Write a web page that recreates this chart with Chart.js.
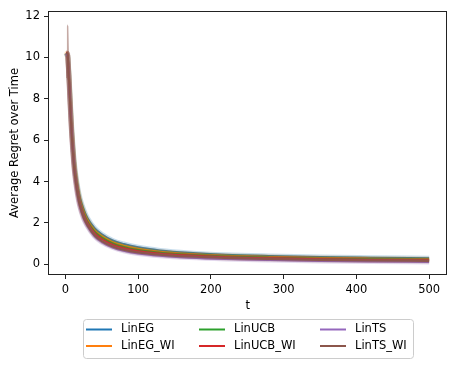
<!DOCTYPE html>
<html>
<head>
<meta charset="utf-8">
<script src="https://cdn.jsdelivr.net/npm/chart.js@4.4.1/dist/chart.umd.min.js"></script>
<style>
    html, body { margin: 0; padding: 0; background: #fff; }
    #wrap { width: 456px; height: 367px; position: relative; }
</style>
</head>
<body>
<div id="wrap"><canvas id="chart"></canvas></div>
<script>
// time steps the values were read at
const tVals = [1, 2, 3, 4, 5, 6, 7, 8, 9, 10, 12, 14, 17, 20, 25, 30, 40, 50, 65, 80, 100, 130, 170, 220, 280, 350, 420, 500];

const linEG    = [10.2, 10.2, 10.1, 9.7, 9.1, 8.4, 7.7, 7.0, 6.4, 5.9, 5.0, 4.4, 3.7, 3.2, 2.65, 2.25, 1.75, 1.45, 1.15, 0.98, 0.82, 0.67, 0.55, 0.46, 0.40, 0.35, 0.32, 0.29];
const linEG_WI = [10.1, 10.2, 10.1, 9.65, 9.0, 8.3, 7.6, 6.9, 6.3, 5.8, 4.9, 4.3, 3.6, 3.1, 2.55, 2.15, 1.65, 1.36, 1.07, 0.90, 0.75, 0.61, 0.50, 0.41, 0.35, 0.30, 0.27, 0.245];
const linUCB   = [10.2, 10.1, 10.1, 9.6, 8.95, 8.2, 7.5, 6.8, 6.2, 5.7, 4.8, 4.2, 3.5, 3.0, 2.45, 2.07, 1.57, 1.29, 1.01, 0.84, 0.69, 0.56, 0.46, 0.38, 0.32, 0.27, 0.24, 0.22];
const linUCB_WI = [10.2, 10.2, 10.1, 9.55, 8.9, 8.1, 7.4, 6.7, 6.1, 5.6, 4.7, 4.1, 3.4, 2.9, 2.35, 1.98, 1.49, 1.21, 0.94, 0.77, 0.63, 0.51, 0.42, 0.34, 0.29, 0.24, 0.21, 0.19];
const linTS    = [10.2, 10.1, 10.1, 9.5, 8.8, 8.0, 7.3, 6.6, 6.0, 5.5, 4.6, 3.95, 3.25, 2.75, 2.2, 1.85, 1.35, 1.07, 0.81, 0.65, 0.52, 0.41, 0.32, 0.25, 0.20, 0.16, 0.13, 0.11];
const linTS_WI = [10.2, 10.2, 10.2, 9.5, 8.8, 8.0, 7.3, 6.6, 6.0, 5.5, 4.6, 4.0, 3.3, 2.8, 2.25, 1.9, 1.4, 1.12, 0.86, 0.70, 0.57, 0.46, 0.37, 0.30, 0.25, 0.21, 0.18, 0.16];

// spread of LinTS_WI over the first few steps
const spikeT     = [1, 2, 3, 4, 5, 6];
const spikeUpper = [10.2, 11.5, 11.6, 11.5, 10.0, 8.4];
const spikeLower = [10.2, 9.0, 8.9, 8.9, 8.6, 7.8];

const xTicks = [0, 100, 200, 300, 400, 500];
const yTicks = [0, 2, 4, 6, 8, 10, 12];

const series = [
    { label: "LinEG", color: "#1f77b4", values: linEG },
    { label: "LinEG_WI", color: "#ff7f0e", values: linEG_WI },
    { label: "LinUCB", color: "#2ca02c", values: linUCB },
    { label: "LinUCB_WI", color: "#d62728", values: linUCB_WI },
    { label: "LinTS", color: "#9467bd", values: linTS },
    { label: "LinTS_WI", color: "#8c564b", values: linTS_WI },
];

const FONT = "'DejaVu Sans', sans-serif";

function rgba(hex, a) {
    const n = parseInt(hex.slice(1), 16);
    return `rgba(${n >> 16}, ${(n >> 8) & 255}, ${n & 255}, ${a})`;
}

const toPts = (xs, ys) => xs.map((t, i) => ({ x: t, y: ys[i] }));

const datasets = [];
series.forEach((s, i) => {
    const base = (series.length - 1 - i) * 2 + 2;
    datasets.push({
        label: s.label,
        data: toPts(tVals, s.values),
        borderColor: s.color,
        borderWidth: 2,
        pointRadius: 0,
        cubicInterpolationMode: "monotone",
        order: base,
    });
    // shaded band
    datasets.push({
        label: s.label + " band",
        data: toPts(tVals, s.values),
        borderColor: rgba(s.color, 0.25),
        borderWidth: 5,
        pointRadius: 0,
        cubicInterpolationMode: "monotone",
        order: base + 1,
    });
});
// LinTS_WI line goes on top
datasets[10].order = 0;
datasets[11].order = 1;

datasets.push({
    label: "spike upper",
    data: toPts(spikeT, spikeUpper),
    borderWidth: 0,
    pointRadius: 0,
    backgroundColor: rgba("#8c564b", 0.5),
    fill: "+1",
    order: 1,
});
datasets.push({
    label: "spike lower",
    data: toPts(spikeT, spikeLower),
    borderWidth: 0,
    pointRadius: 0,
    fill: false,
    order: 1,
});

const frameAndLegend = {
    id: "frameAndLegend",
    afterDraw(chart) {
        const c = chart.ctx;
        const a = chart.chartArea;
        c.save();
        c.strokeStyle = "#222";
        c.lineWidth = 1;
        c.strokeRect(Math.round(a.left) + 0.5, Math.round(a.top) + 0.5,
            Math.round(a.right - a.left) - 1, Math.round(a.bottom - a.top) - 1);

        // legend, filled column-wise like matplotlib
        const bx = 83, by = 319, bw = 330, bh = 39, r = 3;
        c.beginPath();
        c.roundRect(bx + 0.5, by + 0.5, bw, bh, r);
        c.fillStyle = "rgba(255,255,255,0.8)";
        c.fill();
        c.strokeStyle = "#cccccc";
        c.stroke();

        const colX = [86, 199, 320];
        const rowY = [329.5, 346];
        c.font = "11.5px " + FONT;
        c.textBaseline = "middle";
        series.forEach((s, i) => {
            const col = Math.floor(i / 2), row = i % 2;
            const x = colX[col], y = rowY[row];
            c.strokeStyle = s.color;
            c.lineWidth = 2;
            c.beginPath();
            c.moveTo(x, y);
            c.lineTo(x + 26, y);
            c.stroke();
            c.fillStyle = "#000";
            c.fillText(s.label, x + 35, y);
        });
        c.restore();
    },
};

const tickFont = { family: FONT, size: 11.5 };

const config = {
    type: "line",
    data: { datasets: datasets },
    options: {
        responsive: true,
        maintainAspectRatio: false,
        animation: false,
        layout: {
            padding: { left: 8, right: 8.7, top: 6.7, bottom: 54 },
        },
        scales: {
            x: {
                type: "linear",
                min: -24,
                max: 525,
                afterBuildTicks: (s) => { s.ticks = xTicks.map((v) => ({ value: v })); },
                afterFit: (s) => { s.height = 38; },
                ticks: { font: tickFont, color: "#000", padding: 4, maxRotation: 0, autoSkip: false },
                grid: { drawOnChartArea: false, drawTicks: true, tickLength: 4, color: "#222" },
                border: { display: false },
                title: { display: true, text: "t", font: tickFont, color: "#000", padding: 0 },
            },
            y: {
                type: "linear",
                min: -0.52,
                max: 12.25,
                afterBuildTicks: (s) => { s.ticks = yTicks.map((v) => ({ value: v })); },
                afterFit: (s) => { s.width = 40; },
                ticks: { font: tickFont, color: "#000", padding: 4 },
                grid: { drawOnChartArea: false, drawTicks: true, tickLength: 4, color: "#222" },
                border: { display: false },
                title: { display: true, text: "Average Regret over Time", font: tickFont, color: "#000", padding: 0 },
            },
        },
        plugins: {
            legend: { display: false },
            tooltip: { enabled: false },
        },
    },
    plugins: [frameAndLegend],
};

const chart = new Chart(document.getElementById("chart"), config);
</script>
</body>
</html>
